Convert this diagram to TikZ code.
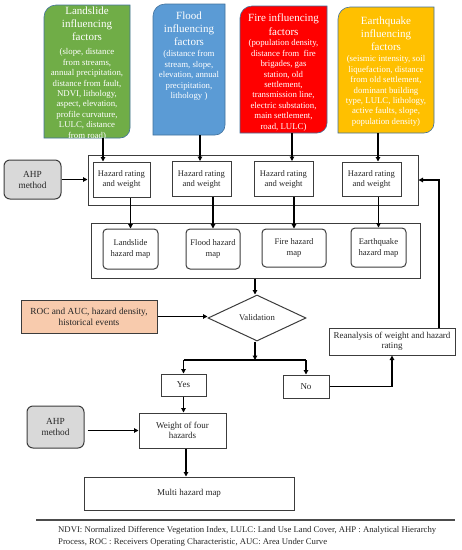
\documentclass[tikz,border=0pt]{standalone}
\usepackage{fontspec}
\setmainfont{Liberation Serif}
\usetikzlibrary{shapes.geometric,arrows.meta,calc}
\definecolor{lsgreen}{HTML}{70AD47}
\definecolor{flblue}{HTML}{5B9BD5}
\definecolor{fired}{HTML}{FF0000}
\definecolor{eqyellow}{HTML}{FFC000}
\definecolor{ahpgray}{HTML}{D9D9D9}
\definecolor{rocorange}{HTML}{F8CBAD}
\definecolor{edgecol}{HTML}{3C3C3C}
\definecolor{factoredge}{HTML}{41719C}
\newcommand{\fsz}[2]{\fontsize{#1}{#2}\selectfont}
\begin{document}
\begin{tikzpicture}[x=1pt,y=-1pt,
  box/.style={draw=edgecol, line width=1pt, inner sep=0pt, align=center, font=\fsz{9}{10}, text=black!85},
  rbox/.style={box, rounded corners=4pt},
  grp/.style={draw=edgecol, line width=1pt, inner sep=0pt},
  arr/.style={line width=1.4pt, -{Triangle[length=4.5pt,width=4.5pt]}},
  link/.style={line width=1.4pt},
  factor/.style={inner sep=0pt, outer sep=0pt},
  fshape/.style={draw=factoredge, line width=0.6pt},
  ftitle/.style={text=white, align=center, inner sep=0pt, font=\fsz{11}{13}},
  fbody/.style={text=white, align=center, inner sep=0pt, font=\fsz{8.8}{10.4}},
]
\useasboundingbox (0,0) rectangle (462,550);

% factor boxes
\node[factor, minimum width=86pt, minimum height=133pt] (ls) at (87,71.5) {};
\node[factor, minimum width=72pt, minimum height=131pt] (fl) at (189,69.5) {};
\node[factor, minimum width=87pt, minimum height=127pt] (fi) at (283.5,69.5) {};
\node[factor, minimum width=96pt, minimum height=126pt] (eq) at (386,70) {};
\foreach \n/\c in {ls/lsgreen, fl/flblue, fi/fired, eq/eqyellow}{
  \path[fshape, fill=\c] (\n.south west) -- ([yshift=-12pt]\n.north west)
    arc[start angle=180, end angle=270, radius=12] -- (\n.north east)
    -- ([yshift=10pt]\n.south east) arc[start angle=0, end angle=90, radius=10] -- cycle;
}
\node[ftitle, anchor=north] (lsT) at (87,6.7) {Landslide\\influencing\\factors};
\node[fbody, anchor=north] (lsB) at (87,48.5) {(slope, distance\\from streams,\\annual precipitation,\\distance from fault,\\NDVI, lithology,\\aspect, elevation,\\profile curvature,\\LULC, distance\\from road)};
\node[ftitle, anchor=north] (flT) at (189,11.7) {Flood\\influencing\\factors};
\node[fbody, anchor=north] (flB) at (189,50.5) {(distance from\\stream, slope,\\elevation, annual\\precipitation,\\lithology )};
\node[ftitle, anchor=north, font=\fsz{11}{14}] (fiT) at (283.5,13.7) {Fire influencing\\factors};
\node[fbody, anchor=north] (fiB) at (283.5,39.5) {(population density,\\distance from~ fire\\brigades, gas\\station, old\\settlement,\\transmission line,\\electric substation,\\main settlement,\\road, LULC)};
\node[ftitle, anchor=north] (eqT) at (386,16.7) {Earthquake\\influencing\\factors};
\node[fbody, anchor=north] (eqB) at (386,55.5) {(seismic intensity, soil\\liquefaction, distance\\from old settlement,\\dominant building\\type, LULC, lithology,\\active faults, slope,\\population density)};

% hazard rating group
\node[grp, minimum width=330pt, minimum height=50pt] (hrg) at (253,180) {};
\node[box, font=\fsz{8.6}{10}, minimum width=57pt, minimum height=35pt] (hr1) at (121.5,179.5) {Hazard rating\\and weight};
\node[box, font=\fsz{8.6}{10}, minimum width=59pt, minimum height=35pt] (hr2) at (201.5,179) {Hazard rating\\and weight};
\node[box, font=\fsz{8.6}{10}, minimum width=59pt, minimum height=35pt] (hr3) at (283.5,179) {Hazard rating\\and weight};
\node[box, font=\fsz{8.6}{10}, minimum width=59pt, minimum height=34pt] (hr4) at (371.5,179) {Hazard rating\\and weight};

\node[rbox, fill=ahpgray, rounded corners=6pt, font=\fsz{9.3}{11}, minimum width=57pt, minimum height=39pt] (ahp1) at (32.5,179.5) {AHP\\method};

% hazard map group
\node[grp, minimum width=329pt, minimum height=55pt] (mg) at (255.5,250.5) {};
\node[rbox, font=\fsz{8.6}{11}, minimum width=55pt, minimum height=40pt] (lm1) at (130.5,249) {Landslide\\hazard map};
\node[rbox, font=\fsz{8.6}{11}, minimum width=54pt, minimum height=40pt] (lm2) at (213,249) {Flood hazard\\map};
\node[rbox, font=\fsz{8.6}{11}, minimum width=64pt, minimum height=38pt] (lm3) at (294,248) {Fire hazard\\map};
\node[rbox, font=\fsz{8.6}{11}, minimum width=55pt, minimum height=39pt] (lm4) at (378.5,247.5) {Earthquake\\hazard map};

% validation
\node[draw=edgecol, line width=1pt, diamond, inner sep=0pt, minimum width=98pt, minimum height=46pt, font=\fsz{8.7}{10}, text=black!85] (val) at (257,318) {Validation};
\node[box, fill=rocorange, font=\fsz{9.3}{11}, minimum width=136pt, minimum height=33pt] (roc) at (89,316.5) {ROC and AUC, hazard density,\\historical events};
\node[box, minimum width=45pt, minimum height=22pt] (yes) at (183.5,385) {Yes};
\node[box, minimum width=46pt, minimum height=23pt] (no) at (306,386.5) {No};
\node[box, minimum width=126pt, minimum height=27pt] (rean) at (392,341.5) {Reanalysis of weight and hazard\\rating};
\node[box, minimum width=87pt, minimum height=35pt] (wt) at (182.5,430.5) {Weight of four\\hazards};
\node[rbox, fill=ahpgray, rounded corners=6pt, font=\fsz{9.3}{11}, minimum width=57pt, minimum height=42pt] (ahp2) at (55.5,427) {AHP\\method};
\node[box, minimum width=210pt, minimum height=33pt] (multi) at (189,493.5) {Multi hazard map};

% helper coordinates
\coordinate (lsx) at (103,0);
\coordinate (flx) at (200,0);
\coordinate (fix) at (292,0);
\coordinate (eqx) at (378,0);
\coordinate (split) at (255,360);
\coordinate (vx) at (255,0);
\coordinate (rx) at (439,0);
\coordinate (mx) at (186,0);

% connectors
\draw[arr] (ls.south -| lsx) -- (hr1.north -| lsx);
\draw[arr] (fl.south -| flx) -- (hr2.north -| flx);
\draw[arr] (fi.south -| fix) -- (hr3.north -| fix);
\draw[arr] (eq.south -| eqx) -- (hr4.north -| eqx);
\draw[arr] (ahp1.east) -- (hrg.west |- ahp1.east);
\draw[arr] (hr1.south -| lm1.north) -- (lm1.north);
\draw[arr] (hr2.south -| lm2.north) -- (lm2.north);
\draw[arr] (hr3.south -| lm3.north) -- (lm3.north);
\draw[arr] (hr4.south -| lm4.north) -- (lm4.north);
\draw[arr] (mg.south -| vx) -- (val.north -| vx);
\draw[arr] (roc.east) -- (val.west |- roc.east);
\draw[arr] (val.south -| vx) -- (split);
\draw[link] (split -| yes.north) -- (split -| no.north);
\draw[arr] (split -| yes.north) -- (yes.north);
\draw[arr] (split -| no.north) -- (no.north);
\draw[arr] (no.east) -| (rean.south);
\draw[arr] (rean.north -| rx) |- (hrg.east);
\draw[arr] (yes.south) -- (wt.north -| yes.south);
\draw[arr] ($(ahp2.east |- wt.west)+(3,0)$) -- (wt.west);
\draw[arr] (wt.south -| mx) -- (multi.north -| mx);

% footnote
\coordinate (rl) at (36,520);
\coordinate (rr) at (455,520);
\draw[line width=1.4pt, draw=black!70] (rl) -- (rr);
\node[anchor=north west, align=left, inner sep=0pt, font=\fsz{8.7}{12}, text=black!85] (note) at (58,526.3) {NDVI: Normalized Difference Vegetation Index, LULC: Land Use Land Cover, AHP : Analytical Hierarchy\\Process, ROC : Receivers Operating Characteristic, AUC: Area Under Curve};
\end{tikzpicture}
\end{document}
